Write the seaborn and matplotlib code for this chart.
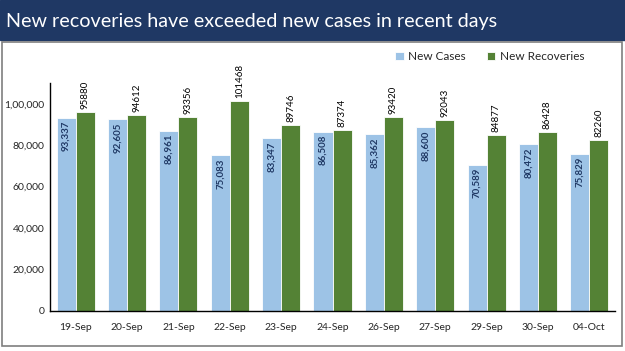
import matplotlib
matplotlib.use("Agg")
import matplotlib.pyplot as plt
import matplotlib.patches as mpatches
import seaborn as sns
import pandas as pd
import numpy as np

dates = ["19-Sep", "20-Sep", "21-Sep", "22-Sep", "23-Sep", "24-Sep", "26-Sep", "27-Sep", "29-Sep", "30-Sep", "04-Oct"]
newCases = [93337, 92605, 86961, 75083, 83347, 86508, 85362, 88600, 70589, 80472, 75829]
newRecoveries = [95880, 94612, 93356, 101468, 89746, 87374, 93420, 92043, 84877, 86428, 82260]
yTicks = [0, 20000, 40000, 60000, 80000, 100000]
yTickLabels = ["0", "20,000", "40,000", "60,000", "80,000", "1,00,000"]
titleText = "New recoveries have exceeded new cases in recent days"

sns.set_style("white")
plt.rcParams["font.family"] = ["Lato", "DejaVu Sans"]

df = pd.DataFrame({
  "date": dates * 2,
  "value": newCases + newRecoveries,
  "series": ["New Cases"] * len(dates) + ["New Recoveries"] * len(dates),
})
palette = {"New Cases": "#9DC3E6", "New Recoveries": "#548235"}

fig = plt.figure(figsize=(6.25, 3.51), dpi=100)
# title banner and panel border
fig.patches.append(mpatches.Rectangle((0, 1 - 40/351), 1, 40/351, transform=fig.transFigure, color="#1F3864", zorder=0))
fig.patches.append(mpatches.Rectangle((2/625, 5/351), 620/625, 304/351, transform=fig.transFigure,
                                      fill=False, edgecolor="#7F7F7F", lw=1.2, zorder=0))
fig.text(6/625, 1 - 21/351, titleText, color="white", fontsize=14.2, va="center", ha="left")

ax = fig.add_axes([50/625, 40/351, 565/625, 228/351])
sns.barplot(data=df, x="date", y="value", hue="series", palette=palette, width=0.74,
            edgecolor="white", linewidth=0.6, saturation=1, ax=ax)
ax.set_ylim(0, 110000)
ax.set_xlim(-0.5, len(dates) - 0.5)
ax.set_yticks(yTicks)
ax.set_yticklabels(yTickLabels, fontsize=7.5)
ax.set_xlabel("")
ax.set_ylabel("")
ax.tick_params(axis="x", which="major", length=0, labelsize=7.5, pad=9)
ax.tick_params(axis="y", length=0, labelsize=7.5, pad=4)
ax.set_xticks(np.arange(-0.5, len(dates)), minor=True)
ax.tick_params(axis="x", which="minor", length=3, width=1, color="black", direction="out")
for s in ["top", "right"]:
  ax.spines[s].set_visible(False)
for s in ["left", "bottom"]:
  ax.spines[s].set_color("black")
  ax.spines[s].set_linewidth(1)

# value labels
casesBars, recBars = ax.containers[0], ax.containers[1]
for bar, v in zip(casesBars, newCases):
  ax.text(bar.get_x() + bar.get_width() / 2, v - 1500, f"{v:,}", rotation=90, ha="center", va="top",
          fontsize=7, fontweight="bold", color="#1F3864")
for bar, v in zip(recBars, newRecoveries):
  ax.text(bar.get_x() + bar.get_width() / 2, v + 1500, str(v), rotation=90, ha="center", va="bottom",
          fontsize=7, color="black")

ax.legend(loc="center right", bbox_to_anchor=(0.965, 1.115), ncol=2, frameon=False, fontsize=8.5,
          handlelength=0.7, handleheight=0.7, handletextpad=0.4, columnspacing=1.8)

fig.savefig("out.png", dpi=100)
